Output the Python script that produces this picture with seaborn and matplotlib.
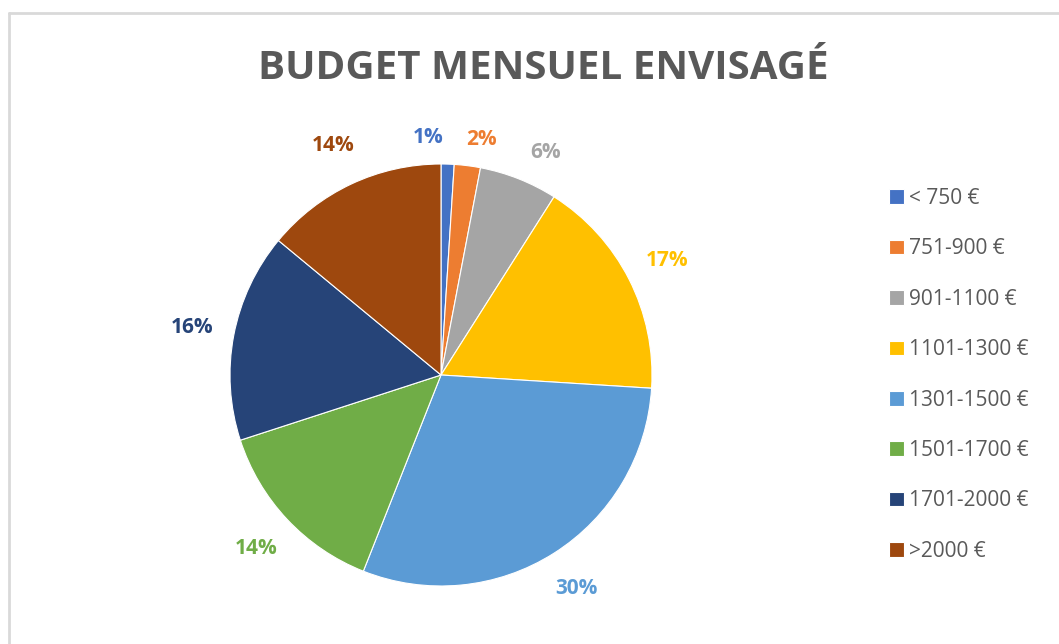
import matplotlib
matplotlib.use("Agg")
import matplotlib.pyplot as plt
from matplotlib.lines import Line2D
import seaborn as sns

# data
categories = ['< 750 €', '751-900 €', '901-1100 €', '1101-1300 €',
              '1301-1500 €', '1501-1700 €', '1701-2000 €', '>2000 €']
shares = [1, 2, 6, 17, 30, 14, 16, 14]
colors = ['#4472C4', '#ED7D31', '#A5A5A5', '#FFC000',
          '#5B9BD5', '#70AD47', '#264478', '#9E480E']

sns.set_theme(style="white")
plt.rcParams['font.family'] = ['Open Sans', 'DejaVu Sans']

W, H = 1059, 644
fig = plt.figure(figsize=(W / 100, H / 100), dpi=100)

# pie axes: centre around (441, 375) px, radius ~211 px
lim = 1.25
side = 2 * 211 * lim
cx, cy = 441, 375
ax = fig.add_axes([(cx - side / 2) / W, (H - cy - side / 2) / H, side / W, side / H])

wedges, texts = ax.pie(
    shares, colors=colors, startangle=90, counterclock=False,
    labels=[f"{v}%" for v in shares], labeldistance=1.2,
    wedgeprops=dict(edgecolor='white', linewidth=0.8),
    textprops=dict(fontsize=15, fontweight='bold'),
)
for t, c in zip(texts, colors):
    t.set_color(c)
    t.set_ha('center')
    t.set_va('center')

# spread the thin slices' labels apart (best-fit style)
nudges = {0: (-0.1, -0.075), 1: (0.04, -0.075), 2: (0.055, -0.06)}
for i, (dx, dy) in nudges.items():
    x, y = texts[i].get_position()
    texts[i].set_position((x + dx, y + dy))

ax.set_xlim(-lim, lim)
ax.set_ylim(-lim, lim)
ax.set_aspect('equal')
ax.axis('off')

# title
fig.text(543 / W, 1 - 79 / H, 'BUDGET MENSUEL ENVISAGÉ', ha='center', va='baseline',
         fontsize=29, fontweight='bold', color='#595959')

# legend
leg = fig.legend(wedges, categories, loc='upper left',
                 bbox_to_anchor=(889 / W, 1 - 188 / H), frameon=False,
                 fontsize=15, labelcolor='#595959',
                 handlelength=0.7, handleheight=0.7, handletextpad=0.25,
                 labelspacing=1.41, borderaxespad=0, borderpad=0)

# chart area border (top and left visible)
fig.add_artist(Line2D([9 / W, 9 / W], [0, 1 - 13 / H], color='#d9d9d9', lw=2,
                      transform=fig.transFigure))
fig.add_artist(Line2D([9 / W, 1], [1 - 13 / H, 1 - 13 / H], color='#d9d9d9', lw=2,
                      transform=fig.transFigure))

fig.savefig('out.png', dpi=100, facecolor='white')
